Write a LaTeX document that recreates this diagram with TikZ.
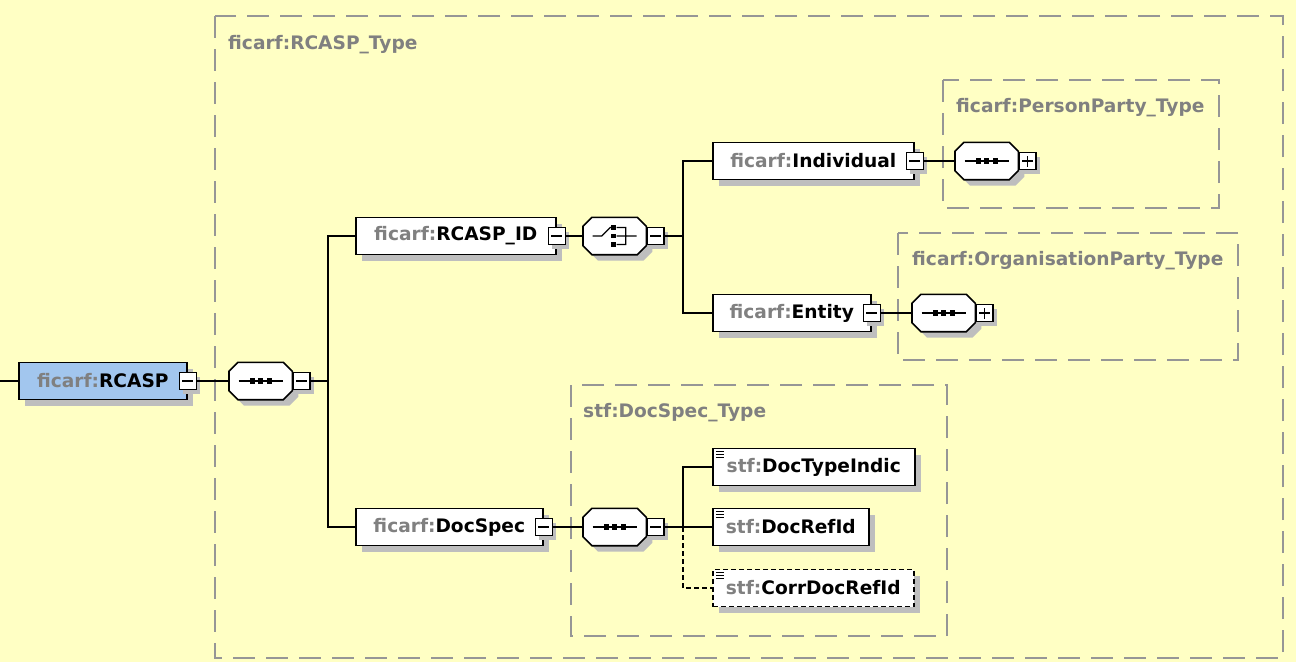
\documentclass[tikz,border=0pt]{standalone}
\usepackage{fontspec}
\setmainfont{DejaVu Sans}
\usepackage{tikz}
\usetikzlibrary{shapes,shadows,positioning,calc}
\usepackage{xcolor}
\definecolor{xsyellow}{RGB}{255,255,196}
\definecolor{xsblue}{RGB}{162,198,238}
\definecolor{xsgray}{RGB}{128,128,128}
\definecolor{xsdash}{RGB}{150,150,150}
\definecolor{xsshadow}{RGB}{190,190,190}
\newcommand{\pfx}[1]{\textcolor{xsgray}{#1}}
\newcommand{\xsfont}{\fontsize{18.6}{21}\selectfont\bfseries}
% octagon round a compositor node
\newcommand{\octpath}[1]{([xshift=9pt]#1.north west) -- ([xshift=-9pt]#1.north east) -- ([yshift=-9pt]#1.north east) -- ([yshift=9pt]#1.south east) -- ([xshift=-9pt]#1.south east) -- ([xshift=9pt]#1.south west) -- ([yshift=9pt]#1.south west) -- ([yshift=-9pt]#1.north west) -- cycle}
\tikzstyle{xsshade} = [drop shadow={shadow xshift=6pt, shadow yshift=-6pt, fill=xsshadow, opacity=1}]
\tikzstyle{elem} = [rectangle, draw=black, line width=1.6pt, fill=white, minimum height=37pt, inner sep=0pt, anchor=west, font=\xsfont, xsshade]
\tikzstyle{simple} = [path picture={\foreach \dy in {3,6,9} \draw[solid, line width=1.2pt] ([xshift=3pt,yshift=-\dy pt]path picture bounding box.north west) -- ++(8pt,0pt);}]
\tikzstyle{minusbox} = [rectangle, draw=black, line width=1.2pt, fill=white, minimum width=17pt, minimum height=17pt, inner sep=0pt, drop shadow={shadow xshift=4pt, shadow yshift=-4pt, fill=xsshadow, opacity=1}, path picture={\draw[line width=1.2pt] ([xshift=3pt]path picture bounding box.west) -- ([xshift=-3pt]path picture bounding box.east);}]
\tikzstyle{plusbox} = [minusbox, path picture={\draw[line width=1.2pt] ([xshift=3pt]path picture bounding box.west) -- ([xshift=-3pt]path picture bounding box.east); \draw[line width=1.2pt] ([yshift=3pt]path picture bounding box.south) -- ([yshift=-3pt]path picture bounding box.north);}]
\tikzstyle{compositor} = [rectangle, minimum width=63pt, minimum height=37pt, inner sep=0pt, anchor=west]
\tikzstyle{octa} = [draw=black, fill=white, line width=1.6pt]
\tikzstyle{symbol} = [line width=1.3pt, black]
\tikzstyle{typebox} = [draw=xsdash, line width=1.8pt, dash pattern=on 22pt off 11pt]
\tikzstyle{typelabel} = [anchor=west, inner sep=0pt, font=\xsfont, text=xsgray]
\tikzstyle{conn} = [line width=1.3pt, black]

\begin{document}
\begin{tikzpicture}[x=1pt, y=-1pt]
\useasboundingbox[fill=xsyellow] (0,0) rectangle (1296,662);

% Types
\draw[typebox] (215,16) rectangle (1283,658);
\node[typelabel] (rcasptype) at (228,45) {ficarf:RCASP\_Type};
\draw[typebox] (943,80) rectangle (1219,208);
\node[typelabel] (persontype) at (956,108) {ficarf:PersonParty\_Type};
\draw[typebox] (898,233) rectangle (1238,360);
\node[typelabel] (orgtype) at (912,261) {ficarf:OrganisationParty\_Type};
\draw[typebox] (571,385) rectangle (947,636);
\node[typelabel] (docspectype) at (583,413) {stf:DocSpec\_Type};

% Elements
\node[elem, fill=xsblue, minimum width=168pt] (rcasp) at (18,381) {\pfx{ficarf:}RCASP};
\node[elem, minimum width=200pt] (rcaspid) at (355,236) {\pfx{ficarf:}RCASP\_ID};
\node[elem, minimum width=201pt] (individual) at (712,161) {\pfx{ficarf:}Individual};
\node[elem, minimum width=158pt] (entity) at (712,313) {\pfx{ficarf:}Entity};
\node[elem, minimum width=187pt] (docspec) at (355,527) {\pfx{ficarf:}DocSpec};
\node[elem, simple, minimum width=202pt] (doctypeindic) at (712,467) {\pfx{stf:}DocTypeIndic};
\node[elem, simple, minimum width=156pt] (docrefid) at (712,527) {\pfx{stf:}DocRefId};
\node[elem, simple, dash pattern=on 5pt off 3pt, minimum width=201pt] (corrdocrefid) at (712,588) {\pfx{stf:}CorrDocRefId};

\node[minusbox] (rcasp-m) at (rcasp.east) {};
\node[minusbox] (rcaspid-m) at (rcaspid.east) {};
\node[minusbox] (individual-m) at (individual.east) {};
\node[minusbox] (entity-m) at (entity.east) {};
\node[minusbox] (docspec-m) at (docspec.east) {};

% Compositors
\node[compositor] (seq) at (229,381) {};
\node[compositor] (choice) at (583,236) {};
\node[compositor] (seqperson) at (955,161) {};
\node[compositor] (seqorg) at (912,313) {};
\node[compositor] (seqdoc) at (583,527) {};

\foreach \c in {seq,choice,seqperson,seqorg,seqdoc} {
  \fill[xsshadow, transform canvas={shift={(6pt,-6pt)}}] \octpath{\c};
  \draw[octa] \octpath{\c};
}
\foreach \c in {seq,seqperson,seqorg,seqdoc} {
  \draw[symbol, shift={(\c.center)}] (-22pt,0pt) -- (22pt,0pt);
  \foreach \d in {-8.5,0,8.5}
    \fill[shift={(\c.center)}] (\d pt,0pt) +(-2.6pt,-2.6pt) rectangle +(2.6pt,2.6pt);
}
\draw[symbol, shift={(choice.center)}] (-22pt,0pt) -- (-13pt,0pt) -- (-4pt,9pt)
  (2pt,8.5pt) -- (11pt,8.5pt) -- (11pt,-8.5pt) -- (2pt,-8.5pt) (2pt,0pt) -- (22pt,0pt);
\foreach \d in {-8.5,0,8.5}
  \fill[shift={(choice.center)}] (-1pt,\d pt) +(-2.4pt,-2.4pt) rectangle +(2.4pt,2.4pt);

\node[minusbox, anchor=west] (seq-m) at (seq.east) {};
\node[minusbox, anchor=west] (choice-m) at (choice.east) {};
\node[plusbox, anchor=west] (seqperson-p) at (seqperson.east) {};
\node[plusbox, anchor=west] (seqorg-p) at (seqorg.east) {};
\node[minusbox, anchor=west] (seqdoc-m) at (seqdoc.east) {};

% Connectors
\coordinate (in) at (0,381);
\coordinate (j1) at (328,381);
\coordinate (j2) at (683,236);
\coordinate (j3) at (683,527);

\draw[conn] (in) -- (rcasp);
\draw[conn] (rcasp-m) -- (seq);
\draw[conn] (seq-m) -- (j1);
\draw[conn] (rcaspid.west) -| (j1) |- (docspec.west);
\draw[conn] (rcaspid-m) -- (choice);
\draw[conn] (choice-m) -- (j2);
\draw[conn] (individual.west) -| (j2) |- (entity.west);
\draw[conn] (individual-m) -- (seqperson);
\draw[conn] (entity-m) -- (seqorg);
\draw[conn] (docspec-m) -- (seqdoc);
\draw[conn] (seqdoc-m) -- (j3);
\draw[conn] (doctypeindic.west) -| (j3) -- (docrefid.west);
\draw[conn, dash pattern=on 5pt off 3pt] (j3) |- (corrdocrefid.west);
\end{tikzpicture}
\end{document}
